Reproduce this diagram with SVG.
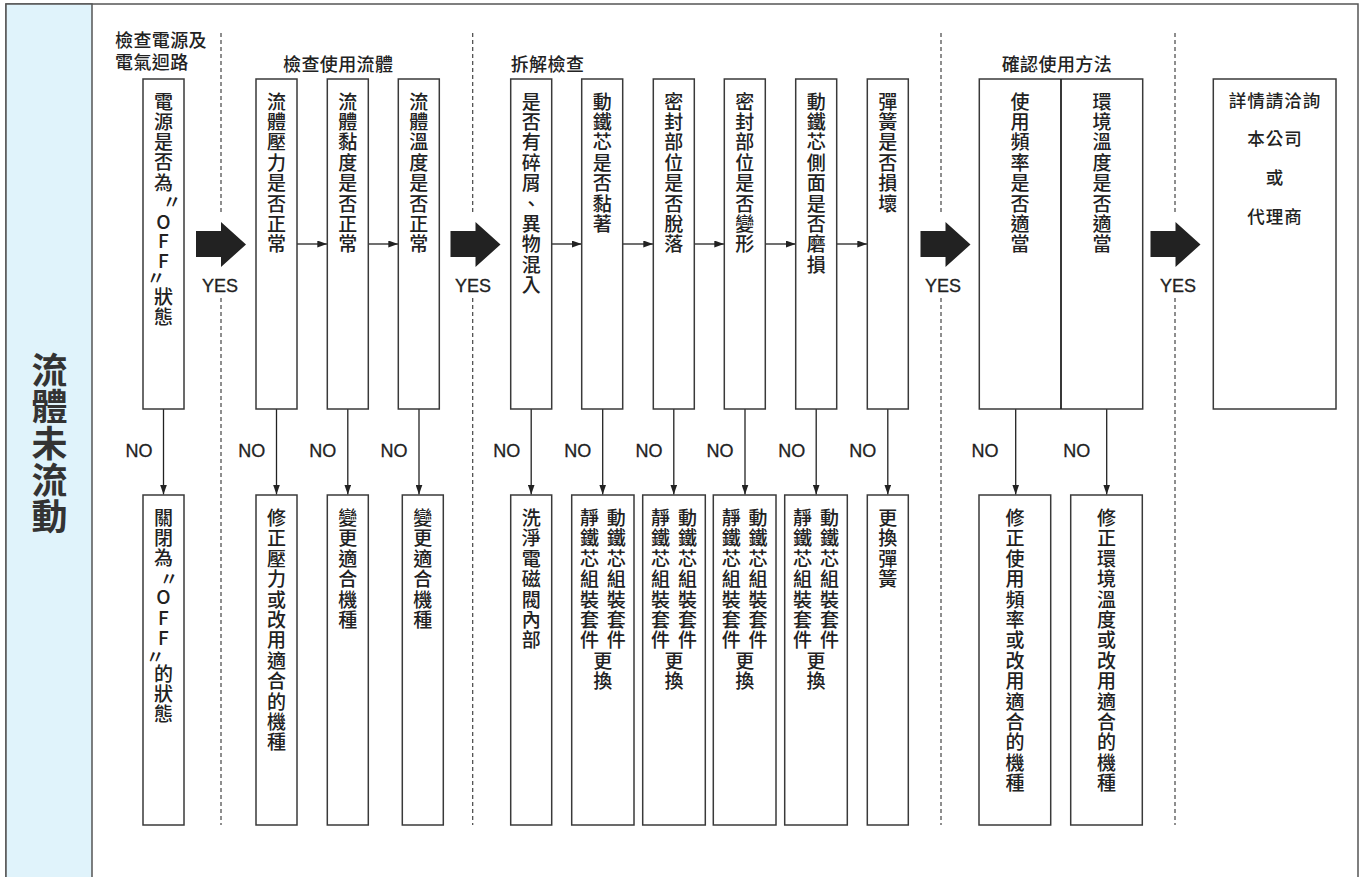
<svg xmlns="http://www.w3.org/2000/svg" width="1363" height="877" viewBox="0 0 1363 877">
<style>
.box{fill:#fff;stroke:#3a3a3a;stroke-width:1.5}
.v{font-family:"Noto Sans CJK TC","Noto Sans CJK SC",sans-serif;font-size:19px;font-weight:500;fill:#222;text-anchor:middle}
.hd{font-family:"Noto Sans CJK TC","Noto Sans CJK SC",sans-serif;font-size:18px;font-weight:500;fill:#222;letter-spacing:0.4px}
.c5{font-family:"Noto Sans CJK TC","Noto Sans CJK SC",sans-serif;font-size:17.5px;font-weight:500;fill:#222;text-anchor:middle;letter-spacing:1px}
.lbl{font-family:"Liberation Sans",Arial,sans-serif;font-size:18px;fill:#222;stroke:#222;stroke-width:0.3;text-anchor:middle}
.sep{stroke:#444;stroke-width:1.2;stroke-dasharray:4 3;fill:none}
.ln{stroke:#222;stroke-width:1.3;fill:none;marker-end:url(#ah)}
.blk{fill:#222}
.title{font-family:"Noto Sans CJK TC","Noto Sans CJK SC",sans-serif;font-size:36px;font-weight:700;fill:#333;text-anchor:middle}
</style>
<defs>
<marker id="ah" markerUnits="userSpaceOnUse" markerWidth="10" markerHeight="7" refX="10" refY="3.5" orient="auto">
<path d="M0,0 L10,3.5 L0,7 Z" fill="#222"/>
</marker>
</defs>

<g id="frame">
<rect x="6" y="4" width="1352" height="890" fill="#fff" stroke="#555" stroke-width="1.5"/>
<rect x="6" y="4" width="86" height="890" fill="#e0f3fb" stroke="#555" stroke-width="1.5"/>
<text class="title" x="49.5 49.5 49.5 49.5 49.5" y="383.7 420.4 457 493.7 530.4">流體未流動</text>
</g>

<g id="separators">
<line class="sep" x1="221" y1="33" x2="221" y2="214"/><line class="sep" x1="221" y1="298" x2="221" y2="825"/>
<line class="sep" x1="472.7" y1="33" x2="472.7" y2="214"/><line class="sep" x1="472.7" y1="298" x2="472.7" y2="825"/>
<line class="sep" x1="941" y1="33" x2="941" y2="214"/><line class="sep" x1="941" y1="298" x2="941" y2="825"/>
<line class="sep" x1="1175" y1="33" x2="1175" y2="214"/><line class="sep" x1="1175" y1="298" x2="1175" y2="825"/>
</g>

<g id="headers">
<text class="hd" x="115 133.4 151.8 170.2 188.6 115 133.4 151.8 170.2" y="46.8 46.8 46.8 46.8 46.8 68.8 68.8 68.8 68.8">檢查電源及電氣迴路</text>
<text class="hd" x="283" y="70.8">檢查使用流體</text>
<text class="hd" x="510.7" y="70.8">拆解檢查</text>
<text class="hd" x="1001.7" y="70.8">確認使用方法</text>
</g>

<g id="connectors">
<path class="blk" d="M196,231 H221 V222 L246,244.5 L221,267 V257 H196 Z"/>
<path class="blk" d="M450.5,231 H475.5 V222 L500.5,244.5 L475.5,267 V257 H450.5 Z"/>
<path class="blk" d="M920.5,231 H945.5 V222 L970.5,244.5 L945.5,267 V257 H920.5 Z"/>
<path class="blk" d="M1150.5,231 H1175.5 V222 L1200.5,244.5 L1175.5,267 V257 H1150.5 Z"/>
<text class="lbl" x="220" y="292">YES</text>
<text class="lbl" x="473" y="292">YES</text>
<text class="lbl" x="943" y="292">YES</text>
<text class="lbl" x="1178" y="292">YES</text>
<line class="ln" x1="297" y1="244" x2="327.3" y2="244"/>
<line class="ln" x1="368.3" y1="244" x2="398.3" y2="244"/>
<line class="ln" x1="551.7" y1="244" x2="581.7" y2="244"/>
<line class="ln" x1="622.7" y1="244" x2="653.3" y2="244"/>
<line class="ln" x1="694.3" y1="244" x2="724.3" y2="244"/>
<line class="ln" x1="765.3" y1="244" x2="795.7" y2="244"/>
<line class="ln" x1="836.7" y1="244" x2="867.3" y2="244"/>
<line class="ln" x1="163.5" y1="409" x2="163.5" y2="494.5"/>
<line class="ln" x1="276.5" y1="409" x2="276.5" y2="494.5"/>
<line class="ln" x1="347.8" y1="409" x2="347.8" y2="494.5"/>
<line class="ln" x1="419" y1="409" x2="419" y2="494.5"/>
<line class="ln" x1="531.2" y1="409" x2="531.2" y2="494.5"/>
<line class="ln" x1="602.7" y1="409" x2="602.7" y2="494.5"/>
<line class="ln" x1="673.8" y1="409" x2="673.8" y2="494.5"/>
<line class="ln" x1="745" y1="409" x2="745" y2="494.5"/>
<line class="ln" x1="816.2" y1="409" x2="816.2" y2="494.5"/>
<line class="ln" x1="887.8" y1="409" x2="887.8" y2="494.5"/>
<line class="ln" x1="1015.7" y1="409" x2="1015.7" y2="494.5"/>
<line class="ln" x1="1106.7" y1="409" x2="1106.7" y2="494.5"/>
<text class="lbl" x="139" y="457.3">NO</text>
<text class="lbl" x="251.7" y="457.3">NO</text>
<text class="lbl" x="322.7" y="457.3">NO</text>
<text class="lbl" x="394" y="457.3">NO</text>
<text class="lbl" x="506.7" y="457.3">NO</text>
<text class="lbl" x="577.7" y="457.3">NO</text>
<text class="lbl" x="649" y="457.3">NO</text>
<text class="lbl" x="720" y="457.3">NO</text>
<text class="lbl" x="791.7" y="457.3">NO</text>
<text class="lbl" x="862.7" y="457.3">NO</text>
<text class="lbl" x="985" y="457.3">NO</text>
<text class="lbl" x="1076.7" y="457.3">NO</text>
</g>

<g id="n1">
<rect class="box" x="143" y="79" width="41" height="330"/>
<text class="v" x="163.5 163.5 163.5 163.5 163.5 172 163.5 163.5 163.5 156 163.5 163.5" y="109 129 149 169 189.5 209 228.5 248 268 285 304 324">電源是否為〃OFF〃狀態</text>
</g>
<g id="n2a">
<rect class="box" x="256" y="79" width="41" height="330"/>
<text class="v" x="276.5 276.5 276.5 276.5 276.5 276.5 276.5 276.5" y="108.5 128.9 149.3 169.7 190.1 210.5 230.9 251.3">流體壓力是否正常</text>
</g>
<g id="n2b">
<rect class="box" x="327.3" y="79" width="41" height="330"/>
<text class="v" x="347.8 347.8 347.8 347.8 347.8 347.8 347.8 347.8" y="108.5 128.9 149.3 169.7 190.1 210.5 230.9 251.3">流體黏度是否正常</text>
</g>
<g id="n2c">
<rect class="box" x="398.3" y="79" width="41" height="330"/>
<text class="v" x="418.8 418.8 418.8 418.8 418.8 418.8 418.8 418.8" y="108.5 128.9 149.3 169.7 190.1 210.5 230.9 251.3">流體溫度是否正常</text>
</g>
<g id="n3a">
<rect class="box" x="510.7" y="79" width="41" height="330"/>
<text class="v" x="531.2 531.2 531.2 531.2 531.2 531.2 531.2 531.2 531.2 531.2" y="108.5 128.9 149.3 169.7 190.1 210.5 230.9 251.3 271.7 292.1">是否有碎屑、異物混入</text>
</g>
<g id="n3b">
<rect class="box" x="581.7" y="79" width="41" height="330"/>
<text class="v" x="602.2 602.2 602.2 602.2 602.2 602.2 602.2" y="108.5 128.9 149.3 169.7 190.1 210.5 230.9">動鐵芯是否黏著</text>
</g>
<g id="n3c">
<rect class="box" x="653.3" y="79" width="41" height="330"/>
<text class="v" x="673.8 673.8 673.8 673.8 673.8 673.8 673.8 673.8" y="108.5 128.9 149.3 169.7 190.1 210.5 230.9 251.3">密封部位是否脫落</text>
</g>
<g id="n3d">
<rect class="box" x="724.3" y="79" width="41" height="330"/>
<text class="v" x="744.8 744.8 744.8 744.8 744.8 744.8 744.8 744.8" y="108.5 128.9 149.3 169.7 190.1 210.5 230.9 251.3">密封部位是否變形</text>
</g>
<g id="n3e">
<rect class="box" x="795.7" y="79" width="41" height="330"/>
<text class="v" x="816.2 816.2 816.2 816.2 816.2 816.2 816.2 816.2 816.2" y="108.5 128.9 149.3 169.7 190.1 210.5 230.9 251.3 271.7">動鐵芯側面是否磨損</text>
</g>
<g id="n3f">
<rect class="box" x="867.3" y="79" width="41" height="330"/>
<text class="v" x="887.8 887.8 887.8 887.8 887.8 887.8" y="108.5 128.9 149.3 169.7 190.1 210.5">彈簧是否損壞</text>
</g>
<g id="n4">
<rect class="box" x="979.3" y="79" width="163.4" height="330"/>
<line x1="1061" y1="79" x2="1061" y2="409" stroke="#222" stroke-width="1.8"/>
<text class="v" x="1020 1020 1020 1020 1020 1020 1020 1020" y="108.5 128.9 149.3 169.7 190.1 210.5 230.9 251.3">使用頻率是否適當</text>
<text class="v" x="1102 1102 1102 1102 1102 1102 1102 1102" y="108.5 128.9 149.3 169.7 190.1 210.5 230.9 251.3">環境溫度是否適當</text>
</g>
<g id="n5">
<rect class="box" x="1213.3" y="79" width="122.7" height="330"/>
<text class="c5" x="1275" y="107">詳情請洽詢</text>
<text class="c5" x="1275" y="145">本公司</text>
<text class="c5" x="1275" y="183.5">或</text>
<text class="c5" x="1275" y="222.5">代理商</text>
</g>

<g id="r1">
<rect class="box" x="143" y="495" width="41" height="330"/>
<text class="v" x="163.5 163.5 163.5 169 163.5 163.5 163.5 155.3 163.5 163.5 163.5" y="525 545 565 586 603.5 625 644.5 664 681 701 721">關閉為〃OFF〃的狀態</text>
</g>
<g id="r2a">
<rect class="box" x="256" y="495" width="41" height="330"/>
<text class="v" x="276.5 276.5 276.5 276.5 276.5 276.5 276.5 276.5 276.5 276.5 276.5 276.5" y="525 545.4 565.8 586.2 606.6 627 647.4 667.8 688.2 708.6 729 749.4">修正壓力或改用適合的機種</text>
</g>
<g id="r2b">
<rect class="box" x="327.3" y="495" width="41" height="330"/>
<text class="v" x="347.8 347.8 347.8 347.8 347.8 347.8" y="525 545.4 565.8 586.2 606.6 627">變更適合機種</text>
</g>
<g id="r2c">
<rect class="box" x="402.3" y="495" width="41" height="330"/>
<text class="v" x="422.8 422.8 422.8 422.8 422.8 422.8" y="525 545.4 565.8 586.2 606.6 627">變更適合機種</text>
</g>
<g id="r3a">
<rect class="box" x="510.7" y="495" width="41" height="330"/>
<text class="v" x="531.2 531.2 531.2 531.2 531.2 531.2 531.2" y="525 545.4 565.8 586.2 606.6 627 647.4">洗淨電磁閥內部</text>
</g>
<g id="r3b">
<rect class="box" x="571.7" y="495" width="62.3" height="330"/>
<text class="v" x="616.2 616.2 616.2 616.2 616.2 616.2 616.2 589.4 589.4 589.4 589.4 589.4 589.4 589.4 602.8 602.8" y="525 545.4 565.8 586.2 606.6 627 647.4 525 545.4 565.8 586.2 606.6 627 647.4 667.8 688.2">動鐵芯組裝套件靜鐵芯組裝套件更換</text>
</g>
<g id="r3c">
<rect class="box" x="642.7" y="495" width="62.6" height="330"/>
<text class="v" x="687.4 687.4 687.4 687.4 687.4 687.4 687.4 660.6 660.6 660.6 660.6 660.6 660.6 660.6 674 674" y="525 545.4 565.8 586.2 606.6 627 647.4 525 545.4 565.8 586.2 606.6 627 647.4 667.8 688.2">動鐵芯組裝套件靜鐵芯組裝套件更換</text>
</g>
<g id="r3d">
<rect class="box" x="713.3" y="495" width="62.7" height="330"/>
<text class="v" x="758 758 758 758 758 758 758 731.3 731.3 731.3 731.3 731.3 731.3 731.3 744.7 744.7" y="525 545.4 565.8 586.2 606.6 627 647.4 525 545.4 565.8 586.2 606.6 627 647.4 667.8 688.2">動鐵芯組裝套件靜鐵芯組裝套件更換</text>
</g>
<g id="r3e">
<rect class="box" x="784.7" y="495" width="62.6" height="330"/>
<text class="v" x="829.4 829.4 829.4 829.4 829.4 829.4 829.4 802.6 802.6 802.6 802.6 802.6 802.6 802.6 816 816" y="525 545.4 565.8 586.2 606.6 627 647.4 525 545.4 565.8 586.2 606.6 627 647.4 667.8 688.2">動鐵芯組裝套件靜鐵芯組裝套件更換</text>
</g>
<g id="r3f">
<rect class="box" x="867.3" y="495" width="41" height="330"/>
<text class="v" x="887.8 887.8 887.8 887.8" y="525 545.4 565.8 586.2">更換彈簧</text>
</g>
<g id="r4a">
<rect class="box" x="979" y="495" width="71.7" height="330"/>
<text class="v" x="1015 1015 1015 1015 1015 1015 1015 1015 1015 1015 1015 1015 1015 1015" y="525 545.4 565.8 586.2 606.6 627 647.4 667.8 688.2 708.6 729 749.4 769.8 790.2">修正使用頻率或改用適合的機種</text>
</g>
<g id="r4b">
<rect class="box" x="1070.7" y="495" width="71.6" height="330"/>
<text class="v" x="1106.5 1106.5 1106.5 1106.5 1106.5 1106.5 1106.5 1106.5 1106.5 1106.5 1106.5 1106.5 1106.5 1106.5" y="525 545.4 565.8 586.2 606.6 627 647.4 667.8 688.2 708.6 729 749.4 769.8 790.2">修正環境溫度或改用適合的機種</text>
</g>
</svg>
